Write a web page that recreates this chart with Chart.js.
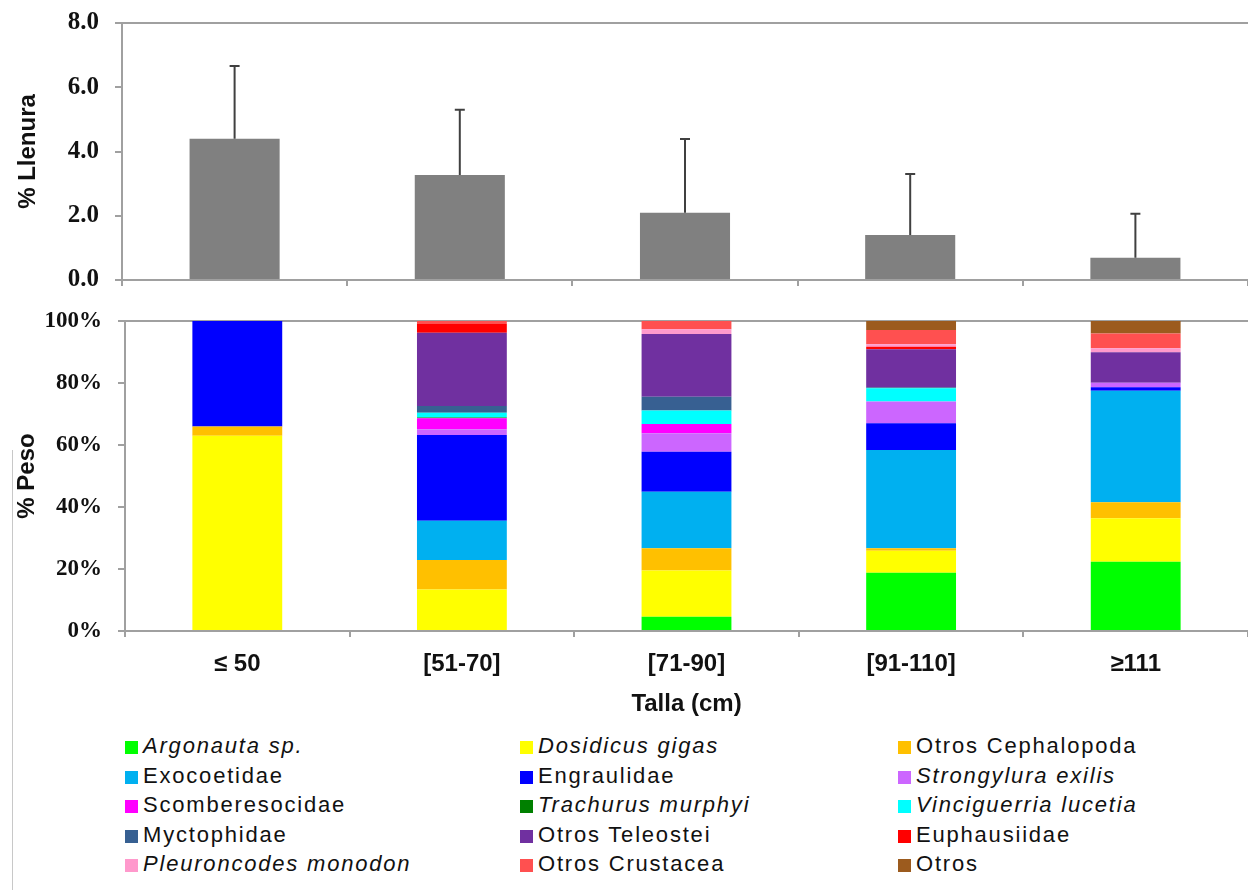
<!DOCTYPE html>
<html>
<head>
<meta charset="utf-8">
<script src="https://cdn.jsdelivr.net/npm/chart.js@4"></script>
<style>
  body { margin: 0; background: #fff; width: 1248px; height: 890px; overflow: hidden; position: relative; }
  #topWrap { position: absolute; left: 0; top: 0; width: 1248px; height: 300px; }
  #bottomWrap { position: absolute; left: 0; top: 300px; width: 1248px; height: 420px; }
  #frame { position: absolute; left: 12px; top: 450px; width: 0; height: 440px; border-left: 1px solid #c8c8c8; }
  #legend { position: absolute; left: 0; top: 731px; width: 1248px; font-family: "Liberation Sans", Arial, sans-serif; font-size: 22px; color: #111; }
  .item { position: absolute; height: 29px; line-height: 29px; white-space: nowrap; letter-spacing: 1.8px; }
  .item span.box { display: inline-block; width: 13px; height: 13px; margin-right: 5px; vertical-align: -1px; }
  .item.it { font-style: italic; }
</style>
</head>
<body>
<div id="topWrap"><canvas id="llenuraChart"></canvas></div>
<div id="bottomWrap"><canvas id="pesoChart"></canvas></div>
<div id="frame"></div>
<div id="legend"></div>
<script>
// size classes
const tallas = ['\u2264 50', '[51-70]', '[71-90]', '[91-110]', '\u2265111'];

// % Llenura (mean and standard deviation)
const llenura = [4.40, 3.27, 2.09, 1.40, 0.69];
const llenuraDE = [2.26, 2.03, 2.30, 1.90, 1.37];
const llenuraTicks = [0, 2, 4, 6, 8];

// % Peso per prey item, bottom to top of the stack
const argonauta      = [0,    0,    4.6,  18.8, 22.3];
const dosidicus      = [63,   13.4, 14.9, 7.1,  14.1];
const otrosCephalo   = [3,    9.5,  7.2,  0.8,  5.1];
const exocoetidae    = [0,    12.7, 18.2, 31.7, 36.0];
const engraulidae    = [34,   27.6, 12.9, 8.6,  1.1];
const strongylura    = [0,    1.9,  6.0,  7.0,  1.5];
const scomberesoc    = [0,    3.5,  3.0,  0,    0];
const trachurus      = [0,    0.3,  0,    0,    0];
const vinciguerria   = [0,    1.5,  4.3,  4.3,  0];
const myctophidae    = [0,    2.2,  4.5,  0.3,  0];
const otrosTeleostei = [0,    23.6, 20.2, 12.3, 9.8];
const euphausiidae   = [0,    2.8,  0,    0.8,  0];
const pleuroncodes   = [0,    0,    1.5,  0.8,  1.3];
const otrosCrustacea = [0,    1.0,  2.7,  4.6,  4.8];
const otros          = [0,    0,    0,    2.9,  4.0];

const presas = [
  { label: 'Argonauta sp.', data: argonauta, color: '#00FF00', italic: true },
  { label: 'Dosidicus gigas', data: dosidicus, color: '#FFFF00', italic: true },
  { label: 'Otros Cephalopoda', data: otrosCephalo, color: '#FFC000', italic: false },
  { label: 'Exocoetidae', data: exocoetidae, color: '#00B0F0', italic: false },
  { label: 'Engraulidae', data: engraulidae, color: '#0000FF', italic: false },
  { label: 'Strongylura exilis', data: strongylura, color: '#CC66FF', italic: true },
  { label: 'Scomberesocidae', data: scomberesoc, color: '#FF00FF', italic: false },
  { label: 'Trachurus murphyi', data: trachurus, color: '#008000', italic: true },
  { label: 'Vinciguerria lucetia', data: vinciguerria, color: '#00FFFF', italic: true },
  { label: 'Myctophidae', data: myctophidae, color: '#376092', italic: false },
  { label: 'Otros Teleostei', data: otrosTeleostei, color: '#7030A0', italic: false },
  { label: 'Euphausiidae', data: euphausiidae, color: '#FF0000', italic: false },
  { label: 'Pleuroncodes monodon', data: pleuroncodes, color: '#FF99CC', italic: true },
  { label: 'Otros Crustacea', data: otrosCrustacea, color: '#FF5050', italic: false },
  { label: 'Otros', data: otros, color: '#9C5B1E', italic: false }
];

const axisGray = '#a0a0a0';
const tickFontTop = { family: '"Liberation Serif", "Times New Roman", serif', size: 25, weight: 'bold' };
const tickFontBottom = { family: '"Liberation Serif", "Times New Roman", serif', size: 23, weight: 'bold' };
const titleFont = { family: '"Liberation Sans", Arial, sans-serif', size: 24, weight: 'bold' };

// fix y axis width and drop the label overhang padding so the plot box is where I want it
const fixY = w => s => { s.width = w; s.paddingTop = 0; s.paddingBottom = 0; };

// error bars (upper only) for the top chart
const errorBars = {
  id: 'errorBars',
  afterDatasetsDraw(chart) {
    const meta = chart.getDatasetMeta(0);
    const y = chart.scales.y;
    const c = chart.ctx;
    c.save();
    c.strokeStyle = '#404040';
    c.lineWidth = 2;
    meta.data.forEach((bar, i) => {
      const top = y.getPixelForValue(llenura[i] + llenuraDE[i]);
      c.beginPath();
      c.moveTo(bar.x, bar.y);
      c.lineTo(bar.x, top);
      c.moveTo(bar.x - 5, top);
      c.lineTo(bar.x + 5, top);
      c.stroke();
    });
    c.restore();
  }
};

new Chart(document.getElementById('llenuraChart'), {
  type: 'bar',
  data: {
    labels: tallas,
    datasets: [{
      data: llenura,
      backgroundColor: '#808080',
      barPercentage: 0.4,
      categoryPercentage: 1
    }]
  },
  options: {
    responsive: true,
    maintainAspectRatio: false,
    animation: false,
    layout: { padding: { top: 23, right: 0, bottom: 0, left: 0 } },
    plugins: { legend: { display: false }, tooltip: { enabled: false } },
    scales: {
      x: {
        afterFit: s => { s.height = 20; },
        grid: { offset: true, drawOnChartArea: false, tickLength: 6, color: axisGray, lineWidth: 2 },
        border: { color: axisGray, width: 2 },
        ticks: { display: false }
      },
      y: {
        min: 0,
        max: 8,
        afterFit: fixY(122),
        afterBuildTicks: s => { s.ticks = llenuraTicks.map(v => ({ value: v })); },
        ticks: { color: '#111', font: tickFontTop, padding: 16, callback: v => v.toFixed(1) },
        grid: {
          tickLength: 7,
          tickColor: axisGray,
          lineWidth: 2,
          color: c => (c.tick && c.tick.value === 8 ? axisGray : 'rgba(0,0,0,0)')
        },
        border: { color: axisGray, width: 2 },
        title: { display: true, text: '% Llenura', font: titleFont, color: '#111', padding: { top: 14, bottom: 0 } }
      }
    }
  },
  plugins: [errorBars]
});

new Chart(document.getElementById('pesoChart'), {
  type: 'bar',
  data: {
    labels: tallas,
    datasets: presas.map(p => ({
      label: p.label,
      data: p.data,
      backgroundColor: p.color,
      barPercentage: 0.4,
      categoryPercentage: 1
    }))
  },
  options: {
    responsive: true,
    maintainAspectRatio: false,
    animation: false,
    layout: { padding: { top: 21, right: 0, bottom: 0, left: 0 } },
    plugins: { legend: { display: false }, tooltip: { enabled: false } },
    scales: {
      x: {
        stacked: true,
        afterFit: s => { s.height = 89; },
        grid: { offset: true, drawOnChartArea: false, tickLength: 6, color: axisGray, lineWidth: 2 },
        border: { color: axisGray, width: 2 },
        ticks: { color: '#111', font: { family: '"Liberation Sans", Arial, sans-serif', size: 24, weight: 'bold' }, padding: 13 },
        title: { display: true, text: 'Talla (cm)', font: { family: '"Liberation Sans", Arial, sans-serif', size: 24, weight: 'bold' }, color: '#111', padding: { top: 0, bottom: 1 } }
      },
      y: {
        stacked: true,
        min: 0,
        max: 100,
        afterFit: fixY(125),
        ticks: { stepSize: 20, color: '#111', font: tickFontBottom, padding: 16, callback: v => v + '%' },
        grid: {
          tickLength: 7,
          tickColor: axisGray,
          lineWidth: 2,
          color: c => (c.tick && c.tick.value === 100 ? axisGray : 'rgba(0,0,0,0)')
        },
        border: { color: axisGray, width: 2 },
        title: { display: true, text: '% Peso', font: titleFont, color: '#111', padding: { top: 13, bottom: 0 } }
      }
    }
  }
});

// legend: 3 columns, row-major order
const legendCols = [125, 520, 898];
const legend = document.getElementById('legend');
presas.forEach((p, i) => {
  const d = document.createElement('div');
  d.className = 'item' + (p.italic ? ' it' : '');
  d.style.left = legendCols[i % 3] + 'px';
  d.style.top = (Math.floor(i / 3) * 29.5) + 'px';
  const b = document.createElement('span');
  b.className = 'box';
  b.style.background = p.color;
  d.appendChild(b);
  d.appendChild(document.createTextNode(p.label));
  legend.appendChild(d);
});
</script>
</body>
</html>
